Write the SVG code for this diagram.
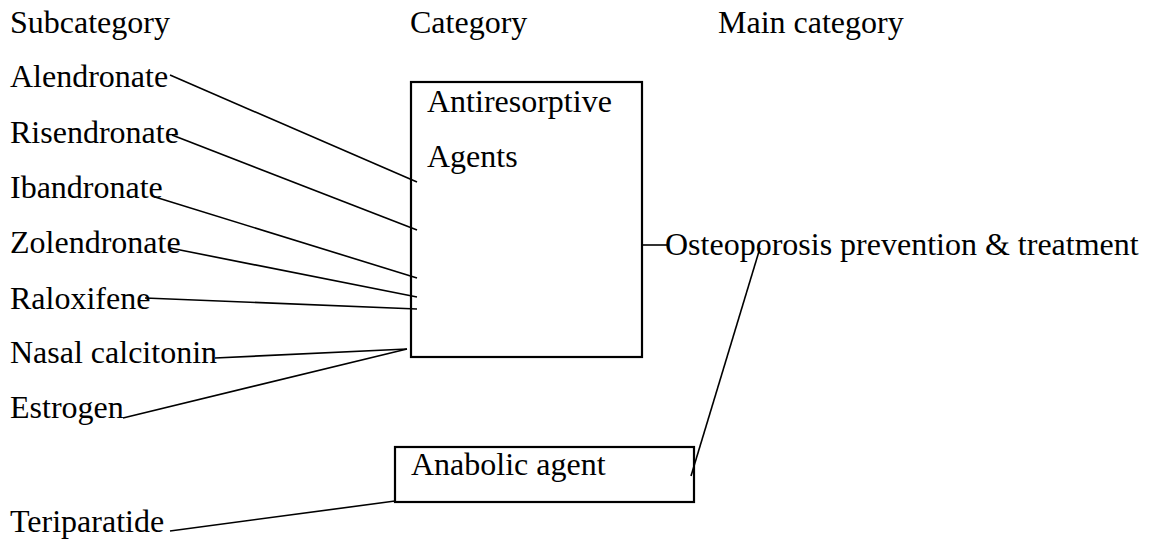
<svg xmlns="http://www.w3.org/2000/svg" width="1151" height="540" viewBox="0 0 1151 540">
<style>
.box{fill:#fff;stroke:#000;stroke-width:2.2}
.c{stroke:#000;stroke-width:1.6;fill:none}
</style>
<rect width="1151" height="540" fill="#fff"/>
<g font-family="Liberation Serif, Times New Roman, Times, serif" font-size="32" fill="#000">
<g id="headers">
<text x="10" y="33">Subcategory</text>
<text x="410" y="33">Category</text>
<text x="718" y="33">Main category</text>
</g>
<g id="antiresorptive">
<rect class="box" x="411" y="82" width="231" height="275"/>
<text x="427" y="112">Antiresorptive</text>
<text x="427" y="167">Agents</text>
</g>
<g id="anabolic">
<rect class="box" x="395" y="447" width="299" height="55"/>
<text x="411" y="475">Anabolic agent</text>
</g>
<g id="main"><text x="665" y="255">Osteoporosis prevention &amp; treatment</text></g>
<g id="n-alendronate"><text x="10" y="87">Alendronate</text></g>
<g id="n-risendronate"><text x="10" y="143">Risendronate</text></g>
<g id="n-ibandronate"><text x="10" y="198">Ibandronate</text></g>
<g id="n-zolendronate"><text x="10" y="253">Zolendronate</text></g>
<g id="n-raloxifene"><text x="10" y="309">Raloxifene</text></g>
<g id="n-nasal"><text x="10" y="363">Nasal calcitonin</text></g>
<g id="n-estrogen"><text x="10" y="418">Estrogen</text></g>
<g id="n-teriparatide"><text x="10" y="532">Teriparatide</text></g>
</g>
<g id="connectors">
<line class="c" x1="170" y1="75" x2="417" y2="182"/>
<line class="c" x1="172" y1="135" x2="417" y2="230"/>
<line class="c" x1="155" y1="197" x2="417" y2="278"/>
<line class="c" x1="170" y1="248" x2="417" y2="297"/>
<line class="c" x1="145" y1="298" x2="417" y2="309"/>
<line class="c" x1="215" y1="358" x2="407" y2="349"/>
<line class="c" x1="123" y1="418" x2="407" y2="349"/>
<line class="c" x1="642" y1="245" x2="667" y2="245"/>
<line class="c" x1="760" y1="248" x2="691" y2="476"/>
<line class="c" x1="170" y1="531" x2="395" y2="501"/>
</g>
</svg>
